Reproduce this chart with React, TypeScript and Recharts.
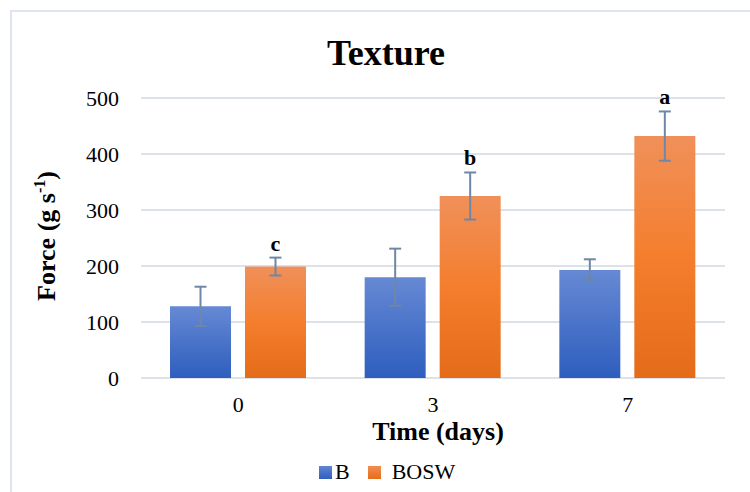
import React from 'react';
import {
  BarChart,
  Bar,
  XAxis,
  YAxis,
  CartesianGrid,
  ErrorBar,
  LabelList,
  Legend,
  Label,
} from 'recharts';

// Storage day (x categories)
const days = ['0', '3', '7'];
// Texture force for the control samples (B) and their standard deviations
const bValues = [128, 180, 193];
const bErrors = [35, 51, 19];
// Texture force for the BOSW samples and their standard deviations
const boswValues = [199, 325, 432];
const boswErrors = [16, 42, 44];
// Significance letters printed above the BOSW bars
const boswLetters = ['c', 'b', 'a'];
const yTicks = [0, 100, 200, 300, 400, 500];

const data = days.map((d, i) => ({
  day: d,
  B: bValues[i],
  bErr: bErrors[i],
  BOSW: boswValues[i],
  boswErr: boswErrors[i],
  letter: boswLetters[i],
}));

const FONT = '"Liberation Serif", "Times New Roman", serif';
const GRID = '#dde2e9';
const WHISKER = '#6f87a6';

const LetterLabel = (props: any) => {
  const { x, y, width, height, index } = props;
  const v = boswValues[index];
  const errPx = (boswErrors[index] * height) / v;
  return (
    <text
      x={x + width / 2}
      y={y - errPx - 7}
      textAnchor="middle"
      fontFamily={FONT}
      fontWeight="bold"
      fontSize={22}
      fill="#000"
    >
      {boswLetters[index]}
    </text>
  );
};

const YTitle = (props: any) => {
  const vb = props.viewBox;
  const cx = vb.x + 14;
  const cy = vb.y + vb.height / 2 - 2;
  return (
    <text
      x={cx}
      y={cy}
      transform={`rotate(-90, ${cx}, ${cy})`}
      textAnchor="middle"
      fontFamily={FONT}
      fontWeight="bold"
      fontSize={26}
      fill="#000"
    >
      Force (g s
      <tspan dy={-10} fontSize={16}>
        -1
      </tspan>
      <tspan dy={10}>)</tspan>
    </text>
  );
};

const XTitle = (props: any) => {
  const vb = props.viewBox;
  return (
    <text
      x={vb.x + vb.width / 2 + 5}
      y={vb.y + 62}
      textAnchor="middle"
      fontFamily={FONT}
      fontWeight="bold"
      fontSize={26}
      fill="#000"
    >
      Time (days)
    </text>
  );
};

const LegendContent = () => {
  const items = [
    { name: 'B', grad: 'linear-gradient(#5f86d3, #2f5fbe)' },
    { name: 'BOSW', grad: 'linear-gradient(#f28d4f, #e66d1b)' },
  ];
  return (
    <div style={{ display: 'flex', alignItems: 'center', height: 22 }}>
      {items.map((it, i) => (
        <div
          key={it.name}
          style={{ display: 'flex', alignItems: 'center', marginRight: i === 0 ? 18 : 0 }}
        >
          <span
            style={{ display: 'inline-block', width: 13, height: 13, background: it.grad }}
          />
          <span
            style={{
              fontFamily: FONT,
              fontSize: 22,
              lineHeight: '22px',
              marginLeft: i === 0 ? 3 : 11,
              color: '#000',
            }}
          >
            {it.name}
          </span>
        </div>
      ))}
    </div>
  );
};

export default function App() {
  return (
    <div
      style={{
        position: 'absolute',
        left: 0,
        top: 0,
        width: 750,
        height: 492,
        overflow: 'hidden',
        background: '#fff',
      }}
    >
      <div
        style={{
          position: 'absolute',
          left: 10,
          top: 10,
          width: 800,
          height: 600,
          border: '2px solid #dfe5ee',
        }}
      />
      <div
        style={{
          position: 'absolute',
          left: 0,
          top: 35,
          width: 750,
          paddingLeft: 22,
          boxSizing: 'border-box',
          textAlign: 'center',
          fontFamily: FONT,
          fontWeight: 'bold',
          fontSize: 36,
          lineHeight: '36px',
          color: '#000',
        }}
      >
        Texture
      </div>
      <div style={{ position: 'absolute', left: 0, top: 0 }}>
        <BarChart
          width={750}
          height={492}
          data={data}
          margin={{ top: 98, right: 25, bottom: 84, left: 41 }}
          barSize={61}
          barGap={14}
        >
          <defs>
            <linearGradient id="gradB" x1="0" y1="0" x2="0" y2="1">
              <stop offset="0%" stopColor="#6689d4" />
              <stop offset="100%" stopColor="#2e5ebe" />
            </linearGradient>
            <linearGradient id="gradO" x1="0" y1="0" x2="0" y2="1">
              <stop offset="0%" stopColor="#f0905a" />
              <stop offset="50%" stopColor="#f47e2d" />
              <stop offset="100%" stopColor="#e46b1a" />
            </linearGradient>
          </defs>
          <CartesianGrid vertical={false} stroke={GRID} strokeWidth={2} />
          <XAxis
            dataKey="day"
            height={30}
            axisLine={false}
            tickLine={false}
            tickSize={0}
            tickMargin={18}
            tick={{ fontFamily: FONT, fontSize: 22, fill: '#000' }}
          >
            <Label content={XTitle} />
          </XAxis>
          <YAxis
            width={100}
            domain={[0, 500]}
            ticks={yTicks}
            axisLine={false}
            tickLine={false}
            tickSize={0}
            tickMargin={22}
            tick={{ fontFamily: FONT, fontSize: 22, fill: '#000' }}
          >
            <Label content={YTitle} />
          </YAxis>
          <Legend
            layout="horizontal"
            verticalAlign="middle"
            align="center"
            wrapperStyle={{ top: 461, left: 319, width: 200 }}
            content={LegendContent}
          />
          <Bar dataKey="B" name="B" fill="url(#gradB)" isAnimationActive={false}>
            <ErrorBar dataKey="bErr" width={6} stroke={WHISKER} strokeWidth={2} direction="y" />
          </Bar>
          <Bar dataKey="BOSW" name="BOSW" fill="url(#gradO)" isAnimationActive={false}>
            <ErrorBar dataKey="boswErr" width={6} stroke={WHISKER} strokeWidth={2} direction="y" />
            <LabelList dataKey="letter" content={LetterLabel} />
          </Bar>
        </BarChart>
      </div>
    </div>
  );
}
